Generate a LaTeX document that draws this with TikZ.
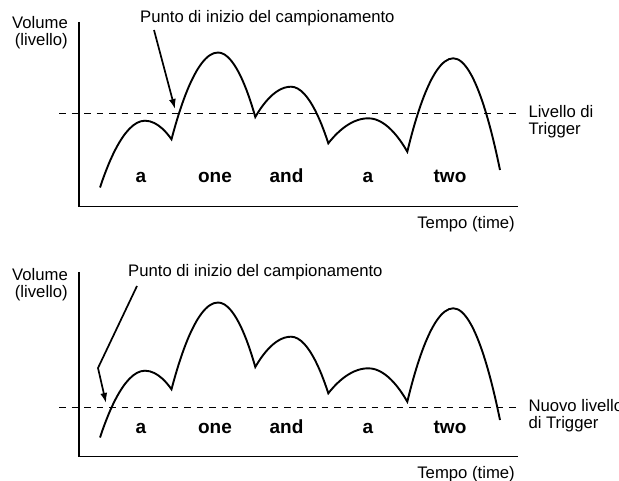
\documentclass[tikz,border=0pt]{standalone}
\usepackage{fontspec}
\setmainfont{Liberation Sans}
\usetikzlibrary{arrows.meta,positioning}
\tikzset{
	txt/.style = {inner sep=0pt, font=\fontsize{16.7}{17}\selectfont},
	beat/.style = {inner sep=0pt, anchor=base, font=\fontsize{19}{20}\selectfont\bfseries},
	axis/.style = {line width=1.4pt},
	wave/.style = {line width=1.9pt},
	level/.style = {line width=0.8pt, dash pattern=on 6.5pt off 6pt},
	pointer/.style = {line width=1.7pt, -{Latex[length=10pt,width=7pt]}},
}

\begin{document}
\begin{tikzpicture}[x=1pt, y=1pt]
    \useasboundingbox (0,0) rectangle (619,-481);
    % the two panels share axes, wave and beats
    \foreach \dy in {0,250} {
    \begin{scope}[shift={(0,-\dy)}]
        \coordinate (ytop\dy) at (79,-22);
        \coordinate (orig\dy) at (79,-206.5);
        \coordinate (xend\dy) at (518,-206.5);
        \draw[axis] (ytop\dy) -- (orig\dy) -- (xend\dy);
        \node[txt, anchor=base east] (tempo\dy) at (515,-228.5) {Tempo (time)};
        \draw[wave] (100,-187.5) parabola bend (145,-120.7) (171.5,-139.3)
            parabola bend (218,-52.5) (255.3,-117)
            parabola bend (291,-86.7) (328.3,-143.3)
            parabola bend (368.3,-118.3) (407.3,-151.7)
            parabola bend (453.3,-58.3) (500,-170);
        \node[beat] (b1\dy) at (141,-183) {a};
        \node[beat] (b2\dy) at (215,-183) {one};
        \node[beat] (b3\dy) at (286.5,-183) {and};
        \node[beat] (b4\dy) at (368,-183) {a};
        \node[beat] (b5\dy) at (450,-183) {two};
    \end{scope}
    }
    % upper panel
    \node[txt, anchor=north east, align=right] (vol1) at (68,-16.3) {Volume\\(livello)};
    \node[txt, anchor=base west] (start1) at (140,-22.7) {Punto di inizio del campionamento};
    \coordinate (tail1) at (154,-30);
    \coordinate (tip1) at (175,-109);
    \draw[pointer] (tail1) -- (tip1);
    \coordinate (lvlL1) at (59,-113);
    \coordinate (lvlR1) at (518,-113);
    \draw[level] (lvlL1) -- (lvlR1);
    \node[txt, anchor=north west, align=left] (trig1) at (528.3,-105.2) {Livello di\\Trigger};
    % lower panel
    \node[txt, anchor=north east, align=right] (vol2) at (68,-267.8) {Volume\\(livello)};
    \node[txt, anchor=base west] (start2) at (128,-276.7) {Punto di inizio del campionamento};
    \coordinate (tail2) at (137,-286);
    \coordinate (bend2) at (98,-368);
    \coordinate (tip2) at (106,-403);
    \draw[pointer] (tail2) -- (bend2) -- (tip2);
    \coordinate (lvlL2) at (59,-407.3);
    \coordinate (lvlR2) at (518,-407.3);
    \draw[level] (lvlL2) -- (lvlR2);
    \node[txt, anchor=north west, align=left] (trig2) at (528.3,-399.6) {Nuovo livello\\di Trigger};
\end{tikzpicture}
\end{document}
